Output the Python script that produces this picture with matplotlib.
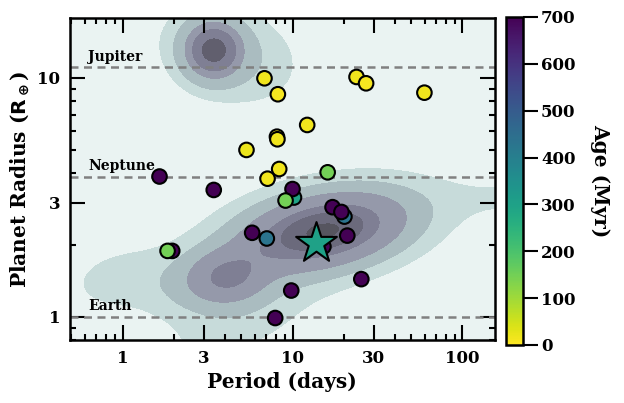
import numpy as np
import matplotlib
matplotlib.use("Agg")
import matplotlib.pyplot as plt
from matplotlib.ticker import FixedLocator, FixedFormatter, LogLocator, NullFormatter

plt.rcParams['font.family'] = ['DejaVu Serif']
plt.rcParams['font.weight'] = 'bold'

# planets: period (days), radius (R_earth), age (Myr)
period = [20.2, 10.2, 15.2, 1.96, 8.1, 6.84, 8.2, 23.8, 27.1, 59.7, 12.2, 8.15, 5.36,
          8.35, 7.13, 1.65, 3.44, 16.1, 10.0, 9.1, 17.2, 19.4, 5.79, 7.06, 21.0,
          1.84, 25.4, 9.83, 7.91]
radius = [2.63, 3.16, 1.97, 1.89, 5.68, 9.97, 8.55, 10.1, 9.5, 8.68, 6.36, 5.54, 5.0,
          4.16, 3.79, 3.87, 3.4, 4.03, 3.43, 3.07, 2.88, 2.75, 2.25, 2.13, 2.19,
          1.89, 1.44, 1.29, 0.99]
age = [430, 290, 700, 700, 15, 15, 10, 15, 10, 15, 15, 15, 20,
       15, 15, 700, 700, 150, 700, 150, 700, 700, 700, 430, 700,
       150, 700, 700, 700]

star_period = [13.7]
star_radius = [2.03]
star_age = [300]

# reference lines
ref_names = ['Jupiter', 'Neptune', 'Earth']
ref_radius = [11.1, 3.86, 1.0]

# background population density: gaussian blobs in log10(P), log10(R)
# small planets
main_u = [1.18, 0.55, 0.62, 2.30, 0.00, 0.70]
main_v = [0.36, 0.15, 0.165, 0.50, 0.16, -0.02]
main_s1 = [0.34, 0.22, 0.14, 0.30, 0.25, 0.35]
main_s2 = [0.105, 0.09, 0.07, 0.08, 0.10, 0.11]
main_tilt = [0.12, 0.1, 0.0, 0.0, 0.1, 0.3]
main_w = [1.0, 0.3, 0.3, 0.07, 0.10, 0.10]
# contour edges (log10 P, log10 R)
main_edge_u = [1.40, 1.79, 1.65, 1.50, 1.41, 1.27]
main_edge_v = [0.62, 0.37, 0.37, 0.37, 0.37, 0.37]
# giant planets
jup_u = [0.535, 0.62]
jup_v = [1.117, 1.10]
jup_s1 = [0.10, 0.24]
jup_s2 = [0.07, 0.12]
jup_tilt = [0.0, -0.15]
jup_w = [1.0, 0.15]
jup_edge_u = [0.98, 0.815, 0.715, 0.665, 0.605]
jup_edge_v = [1.117, 1.117, 1.117, 1.117, 1.117]

kde_colors = ['#c7dbda', '#aabcc0', '#9599aa', '#7f7f94', '#6b6a7c', '#56555f']
jup_colors = ['#c7dbda', '#aabcc0', '#9599aa', '#7f7f94', '#615f6e']


def density(u, v, cu, cv, s1, s2, tilt, w):
    out = np.zeros_like(np.asarray(u, dtype=float))
    for u0, v0, a, b, t, wt in zip(cu, cv, s1, s2, tilt, w):
        th = np.arctan(t)
        du = u - u0
        dv = v - v0
        p = du * np.cos(th) + dv * np.sin(th)
        q = -du * np.sin(th) + dv * np.cos(th)
        out = out + wt * np.exp(-0.5 * ((p / a)**2 + (q / b)**2))
    return out


fig = plt.figure(figsize=(6.24, 4.03), dpi=100)
ax = fig.add_axes([0.112, 0.156, 0.681, 0.799])
cax = fig.add_axes([0.811, 0.144, 0.027, 0.814])
ax.set_facecolor('#eaf3f2')

uu, vv = np.meshgrid(np.linspace(-0.4, 2.3, 400), np.linspace(-0.2, 1.35, 400))
pars = [(main_u, main_v, main_s1, main_s2, main_tilt, main_w, main_edge_u, main_edge_v, kde_colors),
        (jup_u, jup_v, jup_s1, jup_s2, jup_tilt, jup_w, jup_edge_u, jup_edge_v, jup_colors)]
for cu, cv, s1, s2, tl, w, eu, ev, cols in pars:
    dens = density(uu, vv, cu, cv, s1, s2, tl, w)
    lev = sorted(float(density(np.array(a), np.array(b), cu, cv, s1, s2, tl, w)) for a, b in zip(eu, ev))
    ax.contourf(10**uu, 10**vv, dens, levels=lev + [dens.max() + 1], colors=cols, zorder=1)

for name, r in zip(ref_names, ref_radius):
    ax.axhline(r, color='gray', ls='--', lw=1.8, dashes=(3.2, 2.2), zorder=2)
    ax.text(0.63, r * 1.035, name, fontsize=10, fontweight='bold', va='bottom', zorder=2)

sc = ax.scatter(period, radius, c=age, cmap='viridis_r', vmin=0, vmax=700,
                s=110, edgecolors='black', linewidths=1.5, zorder=3)
ax.scatter(star_period, star_radius, c=star_age, cmap='viridis_r', vmin=0, vmax=700,
           marker='*', s=950, edgecolors='black', linewidths=1.5, zorder=4)

ax.set_xscale('log')
ax.set_yscale('log')
ax.set_xlim(0.49, 155)
ax.set_ylim(0.8, 17.8)

ax.xaxis.set_major_locator(FixedLocator([1, 3, 10, 30, 100]))
ax.xaxis.set_major_formatter(FixedFormatter(['1', '3', '10', '30', '100']))
ax.yaxis.set_major_locator(FixedLocator([1, 3, 10]))
ax.yaxis.set_major_formatter(FixedFormatter(['1', '3', '10']))
ax.xaxis.set_minor_locator(LogLocator(base=10, subs=np.arange(2, 10), numticks=20))
ax.yaxis.set_minor_locator(LogLocator(base=10, subs=np.arange(2, 10), numticks=20))
ax.xaxis.set_minor_formatter(NullFormatter())
ax.yaxis.set_minor_formatter(NullFormatter())

ax.tick_params(which='both', direction='in', top=True, right=True, width=1.5, labelsize=12)
ax.tick_params(which='major', length=11, pad=7)
ax.tick_params(which='minor', length=4.5)
for s in ax.spines.values():
    s.set_linewidth(1.8)

ax.set_xlabel('Period (days)', fontsize=14.5, fontweight='bold')
ax.set_ylabel(r'Planet Radius ($\mathbf{R_\oplus}$)', fontsize=14.5, fontweight='bold')

cb = fig.colorbar(sc, cax=cax)
cb.set_ticks(np.arange(0, 701, 100))
cb.ax.tick_params(labelsize=12, width=1.5, length=11, pad=2)
cb.outline.set_linewidth(1.8)
cb.set_label('Age (Myr)', rotation=270, fontsize=14.5, fontweight='bold', labelpad=25)

fig.savefig('out.png', dpi=100)
